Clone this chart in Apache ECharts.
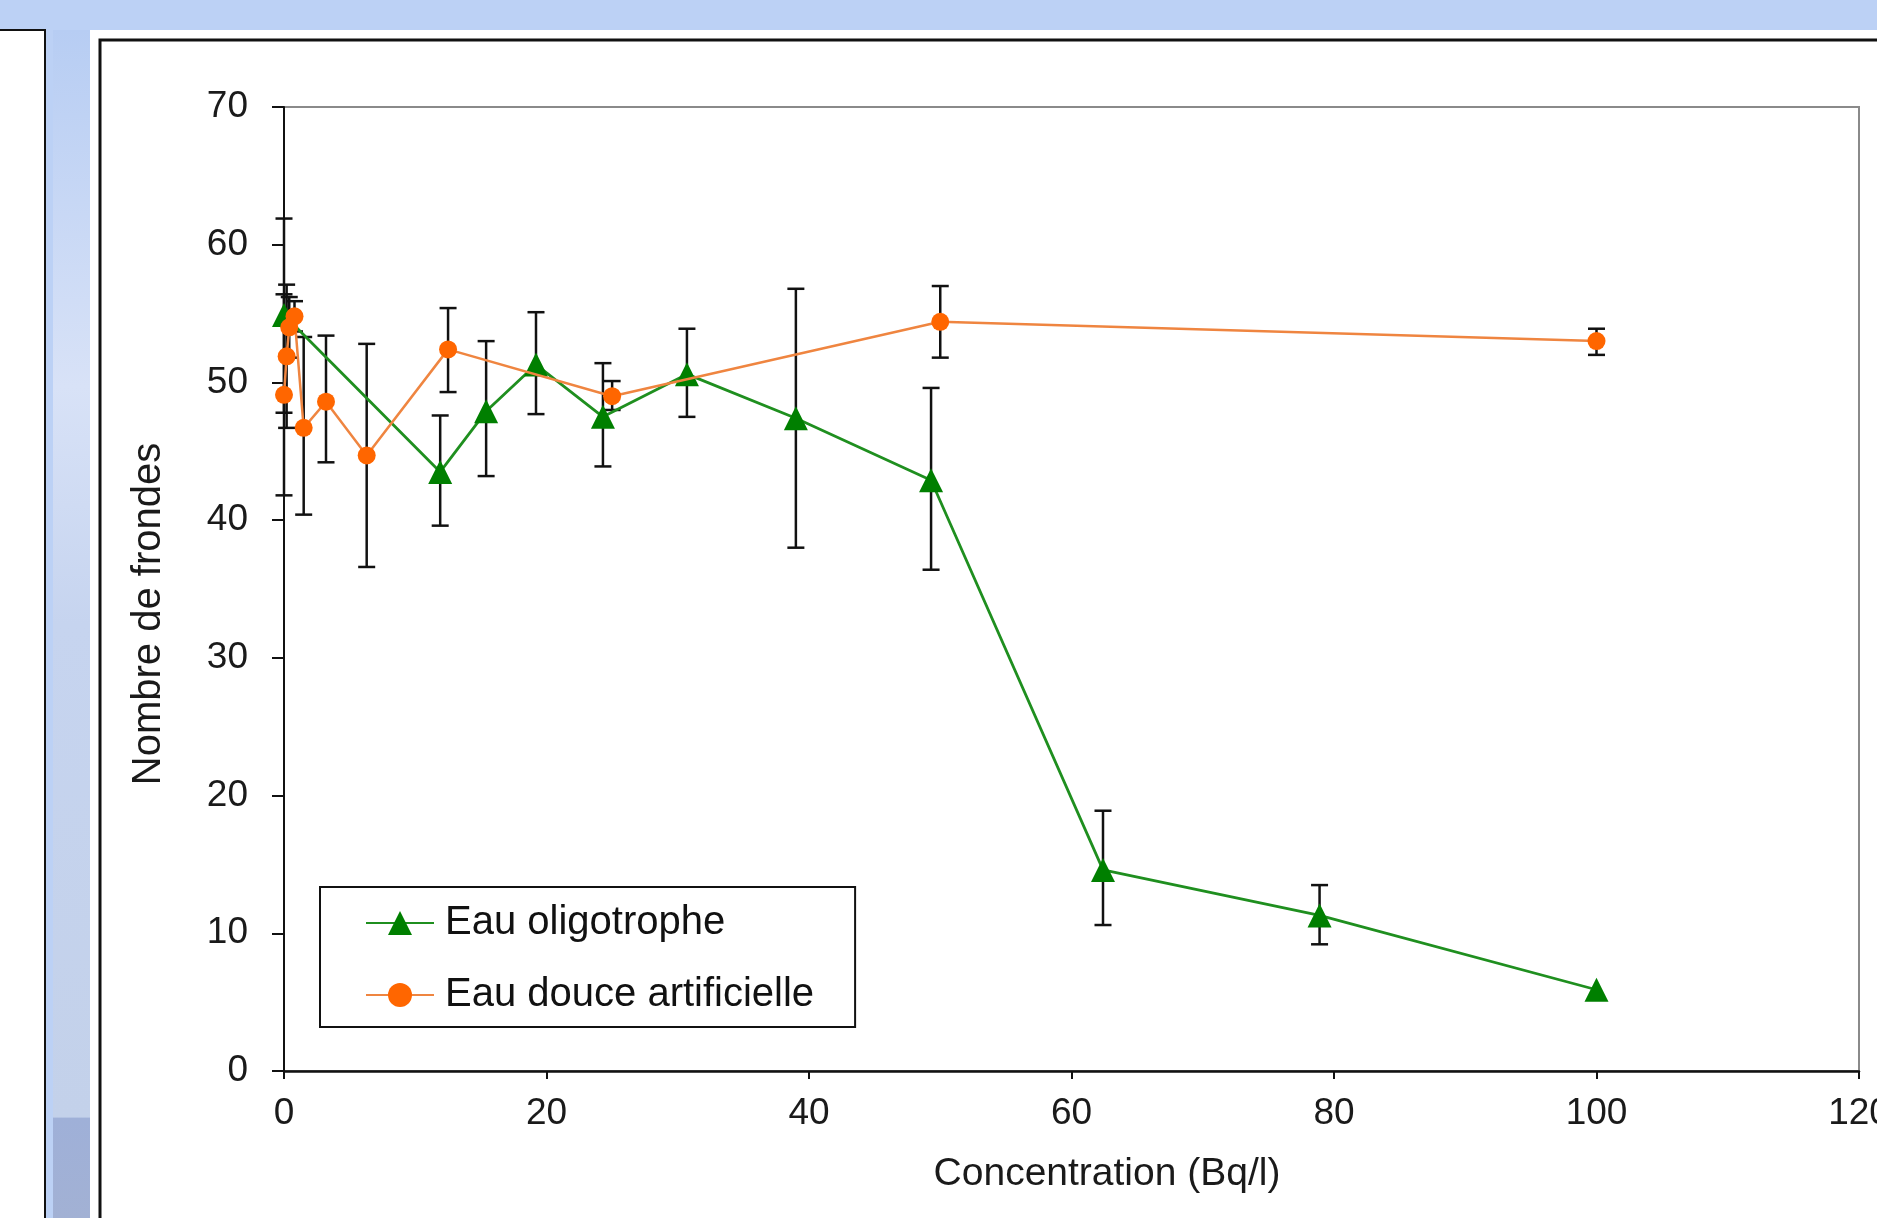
<!DOCTYPE html>
<html>
<head>
<meta charset="utf-8">
<script src="https://cdn.jsdelivr.net/npm/echarts@6/dist/echarts.min.js"></script>
<style>
  html, body { margin: 0; padding: 0; background: #fff; }
  #main { width: 1877px; height: 1218px; }
</style>
</head>
<body>
<div id="main"></div>
<script>
// Eau oligotrophe (green triangles)
var oligoX = [0, 11.9, 15.4, 19.2, 24.3, 30.7, 39.0, 49.3, 62.4, 78.9, 100];
var oligoY = [54.9, 43.5, 47.9, 51.3, 47.5, 50.6, 47.4, 42.9, 14.6, 11.3, 5.9];
var oligoLow = [47.8, 39.6, 43.2, 47.7, 43.9, 47.5, 38.0, 36.4, 10.6, 9.2, null];
var oligoHigh = [61.9, 47.6, 53.0, 55.1, 51.4, 53.9, 56.8, 49.6, 18.9, 13.5, null];

// Eau douce artificielle (orange circles)
var douceX = [0, 0.2, 0.4, 0.8, 1.5, 3.2, 6.3, 12.5, 25, 50, 100];
var douceY = [49.1, 51.9, 54.0, 54.8, 46.7, 48.6, 44.7, 52.4, 49.0, 54.4, 53.0];
var douceLow = [41.8, 46.7, 51.8, 53.7, 40.4, 44.2, 36.6, 49.3, 48.0, 51.8, 52.0];
var douceHigh = [56.4, 57.1, 56.2, 55.9, 53.3, 53.4, 52.8, 55.4, 50.1, 57.0, 53.9];

var xTicks = [0, 20, 40, 60, 80, 100, 120];
var yTicks = [0, 10, 20, 30, 40, 50, 60, 70];

var font = '"Liberation Sans", Arial, sans-serif';

function pairs(xs, ys) {
  return xs.map(function (x, i) { return [x, ys[i]]; });
}
function errData(xs, lo, hi) {
  return xs.map(function (x, i) { return [x, lo[i], hi[i]]; });
}

function renderErr(params, api) {
  var lo = api.value(1), hi = api.value(2);
  if (isNaN(lo) || isNaN(hi)) return null;
  var top = api.coord([api.value(0), hi]);
  var bot = api.coord([api.value(0), lo]);
  var w = 8.5;
  var st = { stroke: '#111', lineWidth: 2.5 };
  return {
    type: 'group',
    children: [
      { type: 'line', shape: { x1: top[0], y1: top[1], x2: bot[0], y2: bot[1] }, style: st },
      { type: 'line', shape: { x1: top[0] - w, y1: top[1], x2: top[0] + w, y2: top[1] }, style: st },
      { type: 'line', shape: { x1: bot[0] - w, y1: bot[1], x2: bot[0] + w, y2: bot[1] }, style: st }
    ]
  };
}

var chart = echarts.init(document.getElementById('main'));

var option = {
  animation: false,
  textStyle: { fontFamily: font },
  graphic: [
    // slide-like background
    { type: 'rect', z: -10, shape: { x: 0, y: 0, width: 1877, height: 1218 }, style: { fill: '#bcd1f5' } },
    { type: 'rect', z: -9, shape: { x: 90, y: 30, width: 1787, height: 1188 }, style: { fill: '#ffffff' } },
    { type: 'rect', z: -9, shape: { x: -5, y: 30, width: 50, height: 1200 }, style: { fill: '#ffffff', stroke: '#111', lineWidth: 2 } },
    {
      type: 'rect', z: -9, shape: { x: 53, y: 30, width: 37, height: 1188 },
      style: {
        fill: new echarts.graphic.LinearGradient(0, 0, 0, 1, [
          { offset: 0, color: '#b7cdf3' },
          { offset: 0.3, color: '#d8e2f7' },
          { offset: 0.5, color: '#c6d4ef' },
          { offset: 0.915, color: '#c3d1ea' },
          { offset: 0.916, color: '#9fb0d8' },
          { offset: 1, color: '#a2b1d4' }
        ])
      }
    },
    { type: 'rect', z: -8, shape: { x: 100, y: 40, width: 1800, height: 1200 }, style: { fill: '#ffffff', stroke: '#111', lineWidth: 3 } },
    // axis titles
    {
      type: 'text', z: 10, x: 149, y: 614, rotation: Math.PI / 2,
      style: { text: 'Nombre de frondes', font: '40px ' + font, fill: '#1a1a1a', align: 'center', verticalAlign: 'middle' }
    },
    {
      type: 'text', z: 10, x: 1107, y: 1174,
      style: { text: 'Concentration (Bq/l)', font: '39px ' + font, fill: '#1a1a1a', align: 'center', verticalAlign: 'middle' }
    }
  ],
  grid: {
    left: 284, top: 107, width: 1575, height: 964,
    outerBoundsMode: 'none', containLabel: false,
    show: true, borderColor: '#8a8a8a', borderWidth: 2, backgroundColor: '#fff'
  },
  legend: {
    left: 320, top: 887,
    orient: 'vertical',
    data: ['Eau oligotrophe', 'Eau douce artificielle'],
    backgroundColor: '#fff',
    borderColor: '#111', borderWidth: 2, borderRadius: 0,
    padding: [16, 41, 12, 45],
    itemWidth: 68, itemHeight: 30, itemGap: 32,
    textStyle: { fontSize: 40, color: '#111', fontFamily: font, lineHeight: 40, padding: [0, 0, 0, 6] }
  },
  xAxis: {
    type: 'value', min: xTicks[0], max: xTicks[xTicks.length - 1], interval: 20,
    axisLine: { onZero: false, lineStyle: { color: '#111', width: 2.5 } },
    axisTick: { show: true, length: 8, lineStyle: { color: '#111', width: 2 } },
    axisLabel: { fontSize: 37, color: '#1a1a1a', margin: 24, fontFamily: font },
    splitLine: { show: false }
  },
  yAxis: {
    type: 'value', min: yTicks[0], max: yTicks[yTicks.length - 1], interval: 10,
    axisLine: { show: true, lineStyle: { color: '#111', width: 2 } },
    axisTick: { show: true, length: 12, lineStyle: { color: '#111', width: 2 } },
    axisLabel: { fontSize: 37, color: '#1a1a1a', margin: 36, fontFamily: font },
    splitLine: { show: false }
  },
  series: [
    {
      name: 'err-oligo', type: 'custom', z: 1,
      renderItem: renderErr, encode: { x: 0, y: [1, 2] },
      data: errData(oligoX, oligoLow, oligoHigh), silent: true
    },
    {
      name: 'err-douce', type: 'custom', z: 1,
      renderItem: renderErr, encode: { x: 0, y: [1, 2] },
      data: errData(douceX, douceLow, douceHigh), silent: true
    },
    {
      name: 'Eau oligotrophe', type: 'line', z: 3,
      data: pairs(oligoX, oligoY),
      symbol: 'triangle', symbolSize: 24,
      lineStyle: { color: '#1f8f1f', width: 2.8 },
      itemStyle: { color: '#007f00' },
      clip: false
    },
    {
      name: 'Eau douce artificielle', type: 'line', z: 4,
      data: pairs(douceX, douceY),
      symbol: 'circle', symbolSize: 18,
      lineStyle: { color: '#ef8540', width: 2.5 },
      itemStyle: { color: '#ff6600' },
      clip: false
    }
  ]
};

chart.setOption(option);
</script>
</body>
</html>
